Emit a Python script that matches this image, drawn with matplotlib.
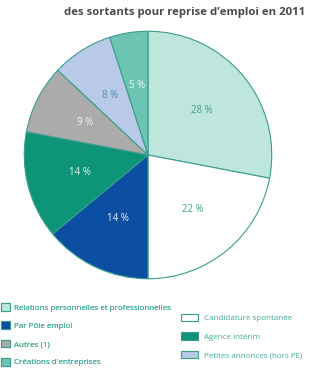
import matplotlib.pyplot as plt
from matplotlib.patches import Patch

# Données : part des sortants pour reprise d'emploi en 2011
categories = ["Relations personnelles et professionnelles", "Candidature spontanée",
              "Par Pôle emploi", "Agence intérim", "Autres (1)",
              "Petites annonces (hors PE)", "Créations d'entreprises"]
parts = [28, 22, 14, 14, 9, 8, 5]
couleurs = ["#bfe6dc", "#ffffff", "#0b4ea2", "#0e9479", "#ababab", "#b9c9e8", "#6cc5b3"]
couleurs_txt = ["#3aa08c", "#3aa08c", "#e8eef8", "#e6f4f0", "#f4f4f4", "#4a8ab4", "#eef8f5"]

gauche = [0, 2, 4, 6]
droite = [1, 3, 5]

plt.rcParams['font.family'] = ['Open Sans', 'DejaVu Sans']
bord = "#3a9e8c"
txt_leg = "#3fab96"

fig = plt.figure(figsize=(3.10, 3.71), dpi=100)
ax = fig.add_axes([(148 - 125) / 310, (371 - 280) / 371, 250 / 310, 250 / 371])

wedges, textes = ax.pie(parts, colors=couleurs, startangle=90, counterclock=False,
                        labels=[f"{p} %" for p in parts], labeldistance=0.57,
                        wedgeprops=dict(edgecolor=bord, linewidth=0.8),
                        textprops=dict(fontsize=7, ha="center", va="center"))
for t, c in zip(textes, couleurs_txt):
    t.set_color(c)
ax.set_xlim(-1.01, 1.01)
ax.set_ylim(-1.01, 1.01)
ax.set_aspect("equal")
ax.axis("off")

fig.text(0.985, 1 - 13 / 371, "des sortants pour reprise d\u2019emploi en 2011",
         ha="right", va="center", fontsize=8.2, fontweight="bold", color="#4a4a4a")

def poignees(idx):
    return [Patch(facecolor=couleurs[i], edgecolor=bord, linewidth=0.8) for i in idx]

leg1 = fig.legend(poignees(gauche), [categories[i] for i in gauche],
                  loc="upper left", bbox_to_anchor=(0.002, 1 - 303 / 371),
                  frameon=False, fontsize=5.8, labelcolor=txt_leg,
                  handlelength=1.16, handleheight=1.1, handletextpad=0.5,
                  labelspacing=1.2, borderaxespad=0, borderpad=0)
fig.add_artist(leg1)
fig.legend(poignees(droite), [categories[i] for i in droite],
           loc="upper left", bbox_to_anchor=(181 / 310, 1 - 313.5 / 371),
           frameon=False, fontsize=5.8, labelcolor=txt_leg,
           handlelength=2.1, handleheight=1.0, handletextpad=0.7,
           labelspacing=1.3, borderaxespad=0, borderpad=0)

fig.savefig("out.png", dpi=100)
